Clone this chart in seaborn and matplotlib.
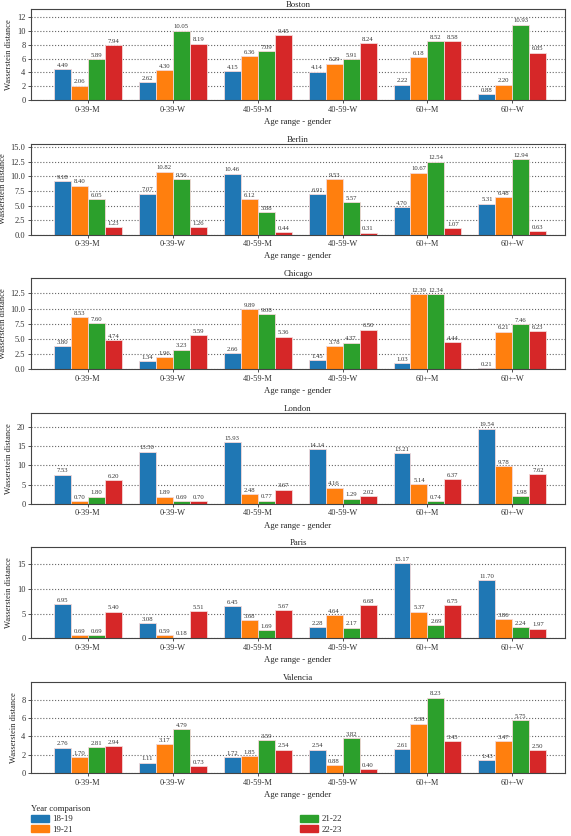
import pandas as pd
import matplotlib.pyplot as plt
import matplotlib.patches as mpatches
import seaborn as sns

# Data
groups = ['0-39-M', '0-39-W', '40-59-M', '40-59-W', '60+-M', '60+-W']
years = ['18-19', '19-21', '21-22', '22-23']
cities = ['Boston', 'Berlin', 'Chicago', 'London', 'Paris', 'Valencia']

boston = [
    [4.49, 2.62, 4.15, 4.14, 2.22, 0.88],
    [2.06, 4.30, 6.36, 5.29, 6.18, 2.20],
    [5.89, 10.05, 7.09, 5.91, 8.52, 10.93],
    [7.94, 8.19, 9.45, 8.24, 8.58, 6.85],
]
berlin = [
    [9.18, 7.07, 10.46, 6.91, 4.70, 5.31],
    [8.40, 10.82, 6.12, 9.53, 10.67, 6.48],
    [6.05, 9.56, 3.88, 5.57, 12.54, 12.94],
    [1.23, 1.26, 0.44, 0.31, 1.07, 0.63],
]
chicago = [
    [3.80, 1.34, 2.66, 1.45, 1.03, 0.21],
    [8.53, 1.96, 9.89, 3.78, 12.39, 6.21],
    [7.60, 3.23, 9.08, 4.37, 12.34, 7.46],
    [4.74, 5.59, 5.36, 6.50, 4.44, 6.23],
]
london = [
    [7.53, 13.50, 15.93, 14.14, 13.21, 19.54],
    [0.70, 1.89, 2.48, 4.16, 5.14, 9.78],
    [1.80, 0.69, 0.77, 1.29, 0.74, 1.98],
    [6.20, 0.70, 3.67, 2.02, 6.37, 7.62],
]
paris = [
    [6.95, 3.08, 6.45, 2.28, 15.17, 11.70],
    [0.69, 0.59, 3.68, 4.64, 5.37, 3.86],
    [0.69, 0.18, 1.69, 2.17, 2.69, 2.24],
    [5.40, 5.51, 5.67, 6.68, 6.75, 1.97],
]
valencia = [
    [2.76, 1.11, 1.72, 2.54, 2.61, 1.43],
    [1.70, 3.17, 1.85, 0.88, 5.38, 3.47],
    [2.81, 4.79, 3.59, 3.82, 8.23, 5.75],
    [2.94, 0.73, 2.54, 0.40, 3.45, 2.50],
]
city_data = [boston, berlin, chicago, london, paris, valencia]

yticks = [
    [0, 2, 4, 6, 8, 10, 12],
    [0, 2.5, 5, 7.5, 10, 12.5, 15],
    [0, 2.5, 5, 7.5, 10, 12.5],
    [0, 5, 10, 15, 20],
    [0, 5, 10, 15],
    [0, 2, 4, 6, 8],
]
ytick_fmt = ['%d', '%.1f', '%.1f', '%d', '%d', '%d']

colors = ['#1f77b4', '#ff7f0e', '#2ca02c', '#d62728']

sns.set_theme(style='white')
plt.rcParams['font.family'] = ['Liberation Serif', 'DejaVu Serif']

W, H = 571, 836
fig = plt.figure(figsize=(W / 100, H / 100), dpi=100)

ax_left, ax_w = 31, 534
for i, (city, vals) in enumerate(zip(cities, city_data)):
    top = 9 + 134.6 * i
    ax = fig.add_axes([ax_left / W, 1 - (top + 91) / H, ax_w / W, 91 / H])
    rows = []
    for y, series in zip(years, vals):
        for g, v in zip(groups, series):
            rows.append({'group': g, 'year': y, 'value': v})
    df = pd.DataFrame(rows)
    sns.barplot(data=df, x='group', y='value', hue='year', palette=colors,
                width=0.8, ax=ax, legend=False, saturation=1,
                edgecolor='#f4d8d8', linewidth=0.6)
    for cont in ax.containers:
        ax.bar_label(cont, fmt='%.2f', fontsize=4.8, padding=1, color='#333333')
    ymax = max(max(s) for s in vals)
    ax.set_ylim(0, ymax * 1.21)
    ax.set_xlim(-0.67, 5.62)
    ax.set_yticks(yticks[i])
    ax.set_yticklabels([ytick_fmt[i] % t for t in yticks[i]])
    ax.yaxis.grid(True, linestyle=':', color='#666666', linewidth=0.8)
    ax.set_axisbelow(True)
    ax.set_title(city, fontsize=6.3, pad=1.5)
    ax.set_xlabel('Age range - gender', fontsize=6.3, labelpad=3)
    ax.set_ylabel('Wasserstein distance', fontsize=6.1, labelpad=2.5)
    ax.tick_params(axis='both', labelsize=6, length=2, width=0.6, pad=2,
                   colors='#333333', left=True, bottom=True)
    for sp in ax.spines.values():
        sp.set_color('#444444')
        sp.set_linewidth(0.8)

handles = [mpatches.Patch(color=c, label=y) for c, y in zip(colors, years)]
leg = fig.legend(handles=handles, title='Year comparison', ncol=2,
                 loc='upper left', bbox_to_anchor=(31 / W, 1 - 805 / H),
                 frameon=False, fontsize=6.3, title_fontsize=6.3,
                 handlelength=2.0, handleheight=0.9, handletextpad=0.4,
                 labelspacing=0.2, columnspacing=26, borderpad=0,
                 borderaxespad=0, alignment='left')

fig.savefig('out.png', dpi=100)
